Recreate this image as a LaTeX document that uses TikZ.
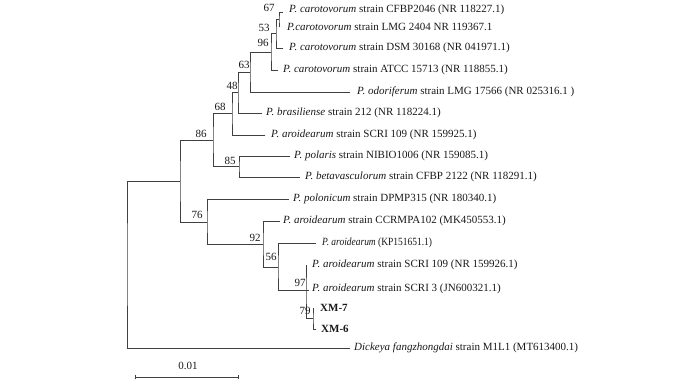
\documentclass[tikz,border=0pt]{standalone}
\usepackage{fontspec}
\setmainfont{Liberation Serif}
\begin{document}
\begin{tikzpicture}[x=1pt,y=-1pt,
  br/.style={line width=0.9pt, draw=black!75, line cap=rect},
  lab/.style={anchor=west, inner sep=0pt, font=\fontsize{11}{13}\selectfont, text=black!90},
  bs/.style={inner sep=0pt, font=\fontsize{11}{13}\selectfont, text=black!90}]
\useasboundingbox (0,0) rectangle (700,381);
% leaves (branch ends)
\coordinate (L1) at (283,12);
\coordinate (L2) at (279,27);
\coordinate (L3) at (283,48);
\coordinate (L4) at (278,70);
\coordinate (L5) at (350,92);
\coordinate (L6) at (262,113);
\coordinate (L7) at (265,135);
\coordinate (L8) at (290,156);
\coordinate (L9) at (300,177);
\coordinate (L10) at (289,199);
\coordinate (L11) at (280,221);
\coordinate (L12) at (316,243);
\coordinate (L13) at (306,265);
\coordinate (L14) at (309,290);
\coordinate (L15) at (313,308);
\coordinate (L16) at (316,329);
\coordinate (L17) at (350,348);
% internal nodes
\coordinate (N67) at (279,19.5);
\coordinate (N53) at (276,33.5);
\coordinate (N96) at (271,52);
\coordinate (N63) at (250,72);
\coordinate (N48) at (238,92.5);
\coordinate (N68) at (232,113.5);
\coordinate (N85) at (239,166.5);
\coordinate (N86) at (213,140);
\coordinate (N79) at (313,318.5);
\coordinate (N97) at (306,290);
\coordinate (N56) at (278,267);
\coordinate (N92) at (263,244);
\coordinate (N76) at (207,222);
\coordinate (NU) at (180,181);
\coordinate (R) at (127,264);
% branches
\draw[br] (L1) -| (N67) |- (L2);
\draw[br] (N67) -| (N53) |- (L3);
\draw[br] (N53) -| (N96) |- (L4);
\draw[br] (N96) -| (N63) |- (L5);
\draw[br] (N63) -| (N48) |- (L6);
\draw[br] (N48) -| (N68) |- (L7);
\draw[br] (L8) -| (N85) |- (L9);
\draw[br] (N68) -| (N86) |- (N85);
\draw[br] (L15) -| (N79) |- (L16);
\draw[br] (L13) -| (N97) |- (N79);
\draw[br] (N97) -- (L14);
\draw[br] (L12) -| (N56) |- (N97);
\draw[br] (L11) -| (N92) |- (N56);
\draw[br] (L10) -| (N76) |- (N92);
\draw[br] (N86) -| (NU) |- (N76);
\draw[br] (NU) -| (R) |- (L17);
% leaf labels
\node[lab] (t1) at (289,10) {\textit{P. carotovorum} strain CFBP2046 (NR 118227.1)};
\node[lab] (t2) at (287,27) {\textit{P.carotovorum} strain LMG 2404 NR 119367.1};
\node[lab] (t3) at (289,48) {\textit{P. carotovorum} strain DSM 30168 (NR 041971.1)};
\node[lab] (t4) at (283,70) {\textit{P. carotovorum} strain ATCC 15713 (NR 118855.1)};
\node[lab] (t5) at (357,92) {\textit{P. odoriferum} strain LMG 17566 (NR 025316.1 )};
\node[lab] (t6) at (266,113) {\textit{P. brasiliense} strain 212 (NR 118224.1)};
\node[lab] (t7) at (271,135) {\textit{P. aroidearum} strain SCRI 109 (NR 159925.1)};
\node[lab] (t8) at (294,156) {\textit{P. polaris} strain NIBIO1006 (NR 159085.1)};
\node[lab] (t9) at (305,177) {\textit{P. betavasculorum} strain CFBP 2122 (NR 118291.1)};
\node[lab] (t10) at (293,199) {\textit{P. polonicum} strain DPMP315 (NR 180340.1)};
\node[lab] (t11) at (283,221) {\textit{P. aroidearum} strain CCRMPA102 (MK450553.1)};
\node[lab] (t12) at (322,243) {\scalebox{0.86}[1]{\textit{P. aroidearum} (KP151651.1)}};
\node[lab] (t13) at (312,265) {\textit{P. aroidearum} strain SCRI 109 (NR 159926.1)};
\node[lab] (t14) at (312,289) {\textit{P. aroidearum} strain SCRI 3 (JN600321.1)};
\node[lab] (t15) at (320,308) {\textbf{XM-7}};
\node[lab] (t16) at (321,329) {\textbf{XM-6}};
\node[lab] (t17) at (354,348) {\textit{Dickeya fangzhongdai} strain M1L1 (MT613400.1)};
% bootstrap values
\node[bs] (b67) at (269,8) {67};
\node[bs] (b53) at (264,28) {53};
\node[bs] (b96) at (263,43) {96};
\node[bs] (b63) at (244,65) {63};
\node[bs] (b48) at (232,86) {48};
\node[bs] (b68) at (220,107) {68};
\node[bs] (b86) at (201,134) {86};
\node[bs] (b85) at (230,161) {85};
\node[bs] (b76) at (197,215) {76};
\node[bs] (b92) at (255,238) {92};
\node[bs] (b56) at (271,257) {56};
\node[bs] (b97) at (300,283) {97};
\node[bs] (b79) at (305,311) {79};
% scale bar
\coordinate (s1) at (135,377);
\coordinate (s2) at (238,377);
\draw[br] (s1) -- (s2);
\draw[br] ([yshift=-2]s1) -- ([yshift=2]s1);
\draw[br] ([yshift=-2]s2) -- ([yshift=2]s2);
\node[bs] (sl) at (188,366) {0.01};
\end{tikzpicture}
\end{document}
